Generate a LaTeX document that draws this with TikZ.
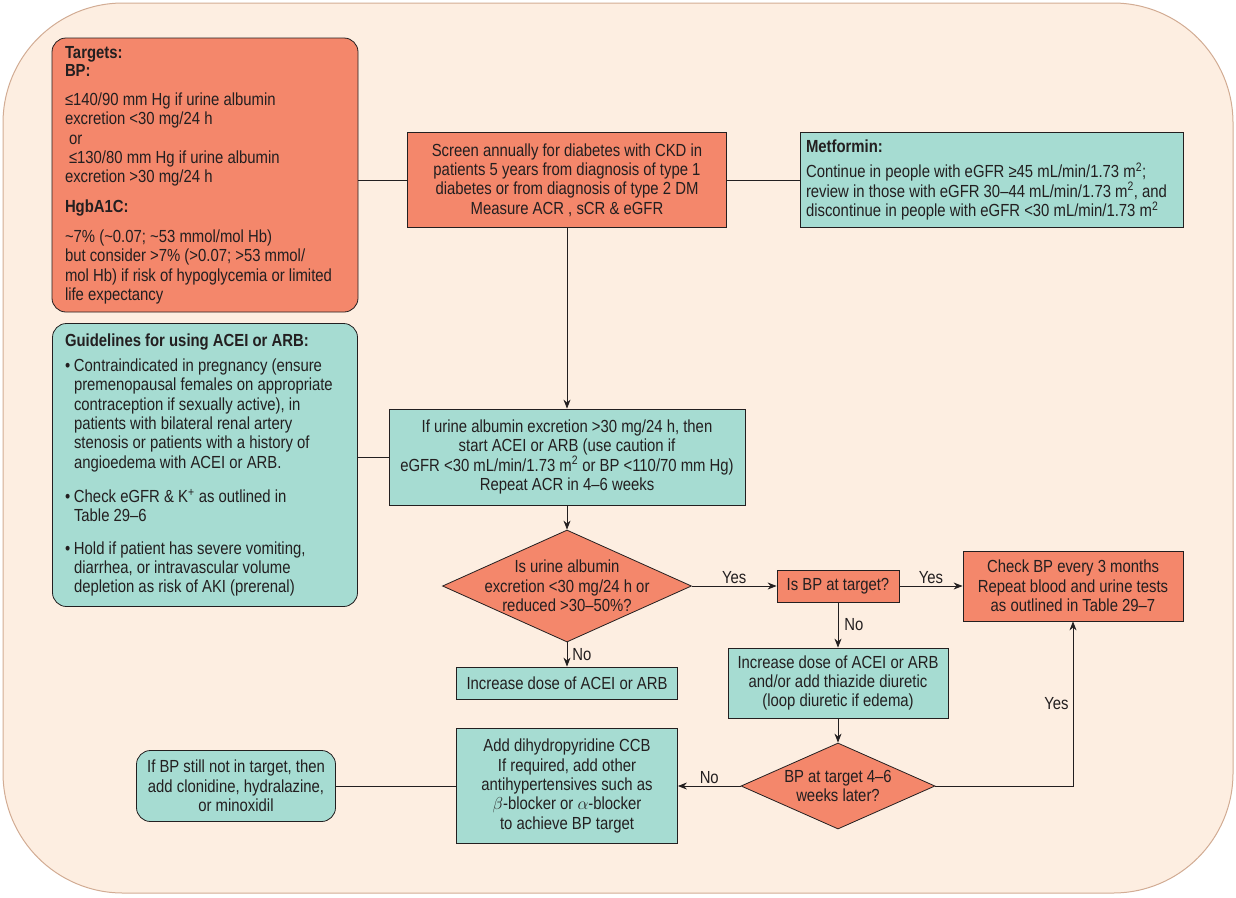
\documentclass[tikz,border=0pt]{standalone}
\usepackage{fontspec}
\setmainfont[FakeStretch=0.85]{Liberation Sans}
\usepackage{tikz}
\usetikzlibrary{arrows.meta,positioning,calc,shapes.geometric}

\definecolor{peach}{HTML}{FDEEE1}
\definecolor{bgline}{HTML}{D2AC94}
\definecolor{salm}{HTML}{F4876B}
\definecolor{tealc}{HTML}{A6DCD2}
\definecolor{ink}{HTML}{231F20}

\newcommand{\txtsz}{\fontsize{17.5}{19.3}\selectfont}
\newcommand{\bul}{\makebox[9pt][l]{\textbullet}}
\newcommand{\hang}{\hspace*{9pt}}

\begin{document}
\begin{tikzpicture}[x=1pt,y=-1pt,
  every node/.style={font=\txtsz,text=ink},
  sb/.style={draw=ink,fill=salm,line width=0.8pt,inner sep=0pt,align=center},
  tb/.style={draw=ink,fill=tealc,line width=0.8pt,inner sep=0pt,align=center},
  rb/.style={rounded corners=14pt},
  dia/.style={diamond,draw=ink,fill=salm,line width=0.8pt,inner sep=0pt},
  ln/.style={line width=0.9pt,draw=ink},
  ar/.style={ln,-{Stealth[length=9pt,width=7pt]}},
  lbl/.style={inner sep=2pt}
]
\useasboundingbox (0,0) rectangle (1236,897);
\fill[peach,draw=bgline,line width=1pt,rounded corners=120pt] (3,3) rectangle (1233,893);

%--- side notes ---
\node[sb,rb,minimum width=306pt,minimum height=274pt,text width=280pt,align=flush left] (tgt) at (205,175)
  {\textbf{Targets:}\\[-1pt]
   \textbf{BP:}\\[10pt]
   ≤140/90 mm Hg if urine albumin\\
   excretion <30 mg/24 h\\
   \hspace*{4pt}or\\
   \hspace*{4pt}≤130/80 mm Hg if urine albumin\\
   excretion >30 mg/24 h\\[10pt]
   \textbf{HgbA1C:}\\[11pt]
   \textasciitilde7\% (\textasciitilde0.07; \textasciitilde53 mmol/mol Hb)\\
   but consider >7\% (>0.07; >53 mmol/\\
   mol Hb) if risk of hypoglycemia or limited\\
   life expectancy};
\node[tb,rb,minimum width=305pt,minimum height=283pt,text width=280pt,align=flush left] (gdl) at (205,465)
  {\textbf{Guidelines for using ACEI or ARB:}\\[6pt]
   \bul Contraindicated in pregnancy (ensure\\
   \hang premenopausal females on appropriate\\
   \hang contraception if sexually active), in\\
   \hang patients with bilateral renal artery\\
   \hang stenosis or patients with a history of\\
   \hang angioedema with ACEI or ARB.\\[15pt]
   \bul Check eGFR \& K\textsuperscript{+} as outlined in\\
   \hang Table 29--6\\[13pt]
   \bul Hold if patient has severe vomiting,\\
   \hang diarrhea, or intravascular volume\\
   \hang depletion as risk of AKI (prerenal)};
\node[tb,minimum width=383pt,minimum height=95pt,text width=372pt,align=flush left] (met) at (992,180)
  {\textbf{Metformin:}\\[6pt]
   Continue in people with eGFR ≥45 mL/min/1.73 m\textsuperscript{2};\\
   review in those with eGFR 30--44 mL/min/1.73 m\textsuperscript{2}, and\\
   discontinue in people with eGFR <30 mL/min/1.73 m\textsuperscript{2}};

%--- main flow ---
\node[sb,minimum width=319pt,minimum height=95pt] (scr) at (567,180)
  {Screen annually for diabetes with CKD in\\
   patients 5 years from diagnosis of type 1\\
   diabetes or from diagnosis of type 2 DM\\
   Measure ACR , sCR \& eGFR};
\node[tb,minimum width=356pt,minimum height=96pt] (acei) at (567,457)
  {If urine albumin excretion >30 mg/24 h, then\\
   start ACEI or ARB (use caution if\\
   eGFR <30 mL/min/1.73 m\textsuperscript{2} or BP <110/70 mm Hg)\\
   Repeat ACR in 4--6 weeks};
\node[dia,minimum width=249pt,minimum height=112pt,
  label={[align=center]center:Is urine albumin\\excretion <30 mg/24 h or\\reduced >30--50\%?}] (q1) at (567,586) {};
\node[sb,minimum width=122pt,minimum height=32pt] (bp) at (838,586) {Is BP at target?};
\node[sb,minimum width=220pt,minimum height=70pt] (chk) at (1073,586)
  {Check BP every 3 months\\Repeat blood and urine tests\\as outlined in Table 29--7};
\node[tb,minimum width=221pt,minimum height=32pt] (inc) at (567,683) {Increase dose of ACEI or ARB};
\node[tb,minimum width=220pt,minimum height=70pt] (thz) at (838,683)
  {Increase dose of ACEI or ARB\\and/or add thiazide diuretic\\(loop diuretic if edema)};
\node[dia,minimum width=194pt,minimum height=86pt,
  label={[align=center]center:BP at target 4--6\\weeks later?}] (q2) at (838,786) {};
\node[tb,minimum width=221pt,minimum height=115pt] (ccb) at (567,786)
  {Add dihydropyridine CCB\\If required, add other\\antihypertensives such as\\
   $\beta$-blocker or $\alpha$-blocker\\to achieve BP target};
\node[tb,rb,minimum width=199pt,minimum height=71pt] (clo) at (236,786)
  {If BP still not in target, then\\add clonidine, hydralazine,\\or minoxidil};

%--- connectors ---
\draw[ln] (tgt.east |- scr.west) -- (scr.west);
\draw[ln] (scr.east) -- (met.west);
\draw[ln] (gdl.east |- acei.west) -- (acei.west);
\draw[ar] (scr) -- (acei);
\draw[ar] (acei) -- (q1);
\draw[ar] (q1) -- node[lbl,above]{Yes} (bp);
\draw[ar] (bp) -- node[lbl,above]{Yes} (chk);
\draw[ar] (q1) -- node[lbl,right,xshift=3pt]{No} (inc);
\draw[ar] (bp) -- node[lbl,right,xshift=4pt]{No} (thz);
\draw[ar] (thz) -- (q2);
\draw[ar] (q2) -- node[lbl,above]{No} (ccb);
\draw[ar] (q2.east) -| node[lbl,left,pos=0.75,xshift=-2pt]{Yes} (chk.south);
\draw[ln] (ccb) -- (clo);
\end{tikzpicture}
\end{document}
